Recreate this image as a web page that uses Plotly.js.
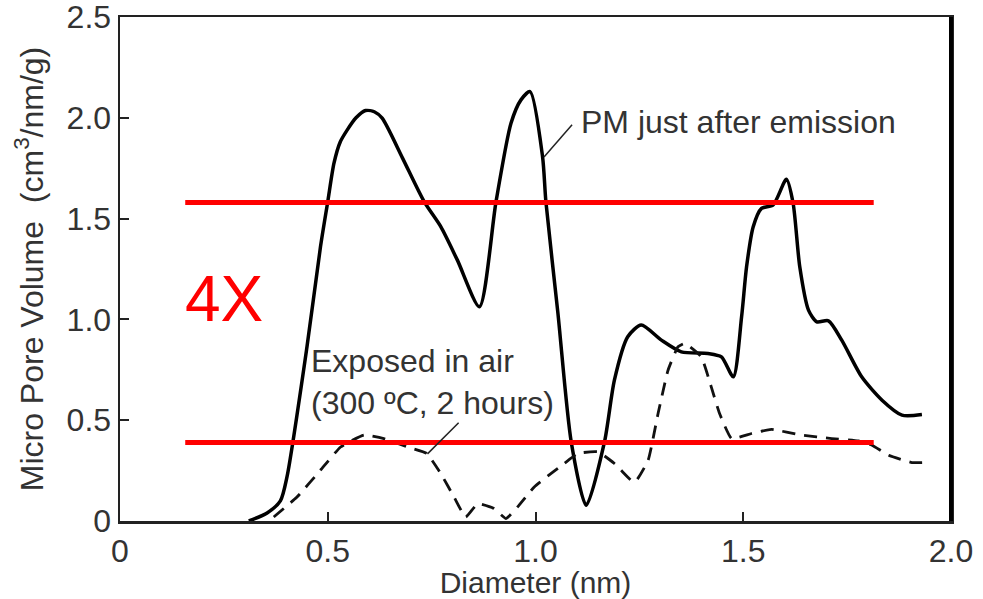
<!DOCTYPE html>
<html>
<head>
<meta charset="utf-8">
<script src="https://cdn.plot.ly/plotly-3.0.1.min.js"></script>
<style>html,body{margin:0;padding:0;background:#fff;}#chart{width:983px;height:599px;}</style>
</head>
<body>
<div id="chart"></div>
<script>
// PM just after emission (solid)
var pmX = [0.31, 0.354, 0.386, 0.402, 0.45, 0.4825, 0.50, 0.515, 0.53, 0.547, 0.568, 0.591, 0.612, 0.631, 0.68, 0.732, 0.772, 0.812, 0.865, 0.905, 0.941, 0.965, 0.987, 1.017, 1.025, 1.054, 1.086, 1.122, 1.166, 1.19, 1.222, 1.2545, 1.303, 1.351, 1.415, 1.4475, 1.476, 1.496, 1.508, 1.524, 1.544, 1.572, 1.604, 1.620, 1.636, 1.657, 1.677, 1.705, 1.737, 1.785, 1.834, 1.882, 1.93];
var pmY = [0.0, 0.04, 0.10, 0.22, 0.864, 1.36, 1.584, 1.775, 1.88, 1.94, 2.0, 2.036, 2.03, 1.998, 1.80, 1.584, 1.46, 1.294, 1.063, 1.584, 1.973, 2.089, 2.13, 1.807, 1.584, 1.03, 0.392, 0.078, 0.392, 0.70, 0.914, 0.972, 0.897, 0.839, 0.831, 0.814, 0.715, 1.013, 1.261, 1.46, 1.551, 1.568, 1.695, 1.576, 1.261, 1.046, 0.988, 0.993, 0.897, 0.715, 0.599, 0.525, 0.528];
// Exposed in air (300 ºC, 2 hours) (dashed)
var airX = [0.37, 0.426, 0.4825, 0.531, 0.587, 0.635, 0.692, 0.738, 0.772, 0.804, 0.832, 0.861, 0.90, 0.929, 0.957, 0.997, 1.037, 1.069, 1.102, 1.15, 1.19, 1.23, 1.24, 1.271, 1.295, 1.319, 1.343, 1.359, 1.399, 1.423, 1.443, 1.472, 1.52, 1.568, 1.64, 1.713, 1.777, 1.81, 1.85, 1.906, 1.934];
var airY = [0.02, 0.119, 0.252, 0.367, 0.426, 0.409, 0.367, 0.335, 0.235, 0.119, 0.02, 0.086, 0.062, 0.012, 0.07, 0.169, 0.235, 0.285, 0.335, 0.343, 0.285, 0.202, 0.194, 0.301, 0.533, 0.748, 0.864, 0.881, 0.814, 0.665, 0.533, 0.409, 0.434, 0.454, 0.426, 0.409, 0.397, 0.376, 0.326, 0.29, 0.29];
// Red reference levels ("4X")
var redLevels = [1.58, 0.39];
var redSpan = [0.157, 1.814];
// Axis ticks
var xTickVals = [0, 0.5, 1.0, 1.5, 2.0];
var xTickText = ["0", "0.5", "1.0", "1.5", "2.0"];
var yTickVals = [0, 0.5, 1.0, 1.5, 2.0, 2.5];
var yTickText = ["0", "0.5", "1.0", "1.5", "2.0", "2.5"];
// Labels and leader lines
var pmLabel = {text: "PM just after emission", x: 1.104, y: 1.98};
var pmLeader = {x0: 1.088, y0: 1.965, x1: 1.0205, y1: 1.806};
var airLabel = {text: "Exposed in air<br>(300 ºC, 2 hours)", x: 0.454, y: 0.69};
var airLeader = {x0: 0.815, y0: 0.487, x1: 0.740, y1: 0.333};
var ratioLabel = {text: "4X", x: 0.251, y: 1.10};

var FONT = "Liberation Sans, Arial, Helvetica, sans-serif";
var TXT = "#333333";

var traces = [
  {x: pmX, y: pmY, mode: "lines", line: {color: "#000", width: 3.5, shape: "spline", smoothing: 0.7}, hoverinfo: "skip"},
  {x: airX, y: airY, mode: "lines", line: {color: "#111", width: 2.8, dash: "13px,9px", shape: "spline", smoothing: 0.4}, hoverinfo: "skip"}
];
redLevels.forEach(function (lv) {
  traces.push({x: redSpan, y: [lv, lv], mode: "lines", line: {color: "#ff0000", width: 5}, hoverinfo: "skip"});
});

var layout = {
  width: 983, height: 599,
  margin: {l: 120, r: 32, t: 17, b: 78},
  paper_bgcolor: "#fff", plot_bgcolor: "#fff",
  showlegend: false,
  font: {family: FONT, size: 32, color: TXT},
  xaxis: {
    range: [0, 2], tickvals: xTickVals, ticktext: xTickText,
    ticks: "inside", ticklen: 9, tickwidth: 2, tickcolor: "#222",
    showline: true, linecolor: "#222", linewidth: 2.5, mirror: true,
    showgrid: false, zeroline: false,
    ticklabeloverflow: "allow",
    tickfont: {family: FONT, size: 32, color: TXT},
    title: {text: "Diameter (nm)", font: {family: FONT, size: 30, color: TXT}, standoff: 0}
  },
  yaxis: {
    range: [0, 2.5], tickvals: yTickVals, ticktext: yTickText,
    ticks: "inside", ticklen: 9, tickwidth: 2, tickcolor: "#222",
    showline: true, linecolor: "#222", linewidth: 2.5, mirror: true,
    showgrid: false, zeroline: false,
    ticklabeloverflow: "allow",
    tickfont: {family: FONT, size: 32, color: TXT},
    title: {text: "Micro Pore Volume  (cm<sup>3</sup>/nm/g)", font: {family: FONT, size: 32, color: TXT}, standoff: 14}
  },
  shapes: [
    {type: "line", xref: "paper", yref: "paper", x0: 1, x1: 1, y0: 0, y1: 1, line: {color: "#000", width: 4}},
    {type: "line", xref: "x", yref: "y", x0: pmLeader.x0, y0: pmLeader.y0, x1: pmLeader.x1, y1: pmLeader.y1, line: {color: "#222", width: 1.5}},
    {type: "line", xref: "x", yref: "y", x0: airLeader.x0, y0: airLeader.y0, x1: airLeader.x1, y1: airLeader.y1, line: {color: "#222", width: 1.5}}
  ],
  annotations: [
    {x: pmLabel.x, y: pmLabel.y, text: pmLabel.text, showarrow: false, xanchor: "left", yanchor: "middle", font: {family: FONT, size: 32, color: TXT}},
    {x: airLabel.x, y: airLabel.y, text: airLabel.text, showarrow: false, xanchor: "left", yanchor: "middle", align: "left", font: {family: FONT, size: 32, color: TXT}},
    {x: ratioLabel.x, y: ratioLabel.y, text: ratioLabel.text, showarrow: false, xanchor: "center", yanchor: "middle", font: {family: FONT, size: 64, color: "#ff0000"}}
  ]
};

Plotly.newPlot("chart", traces, layout, {displayModeBar: false, staticPlot: true});
</script>
</body>
</html>
